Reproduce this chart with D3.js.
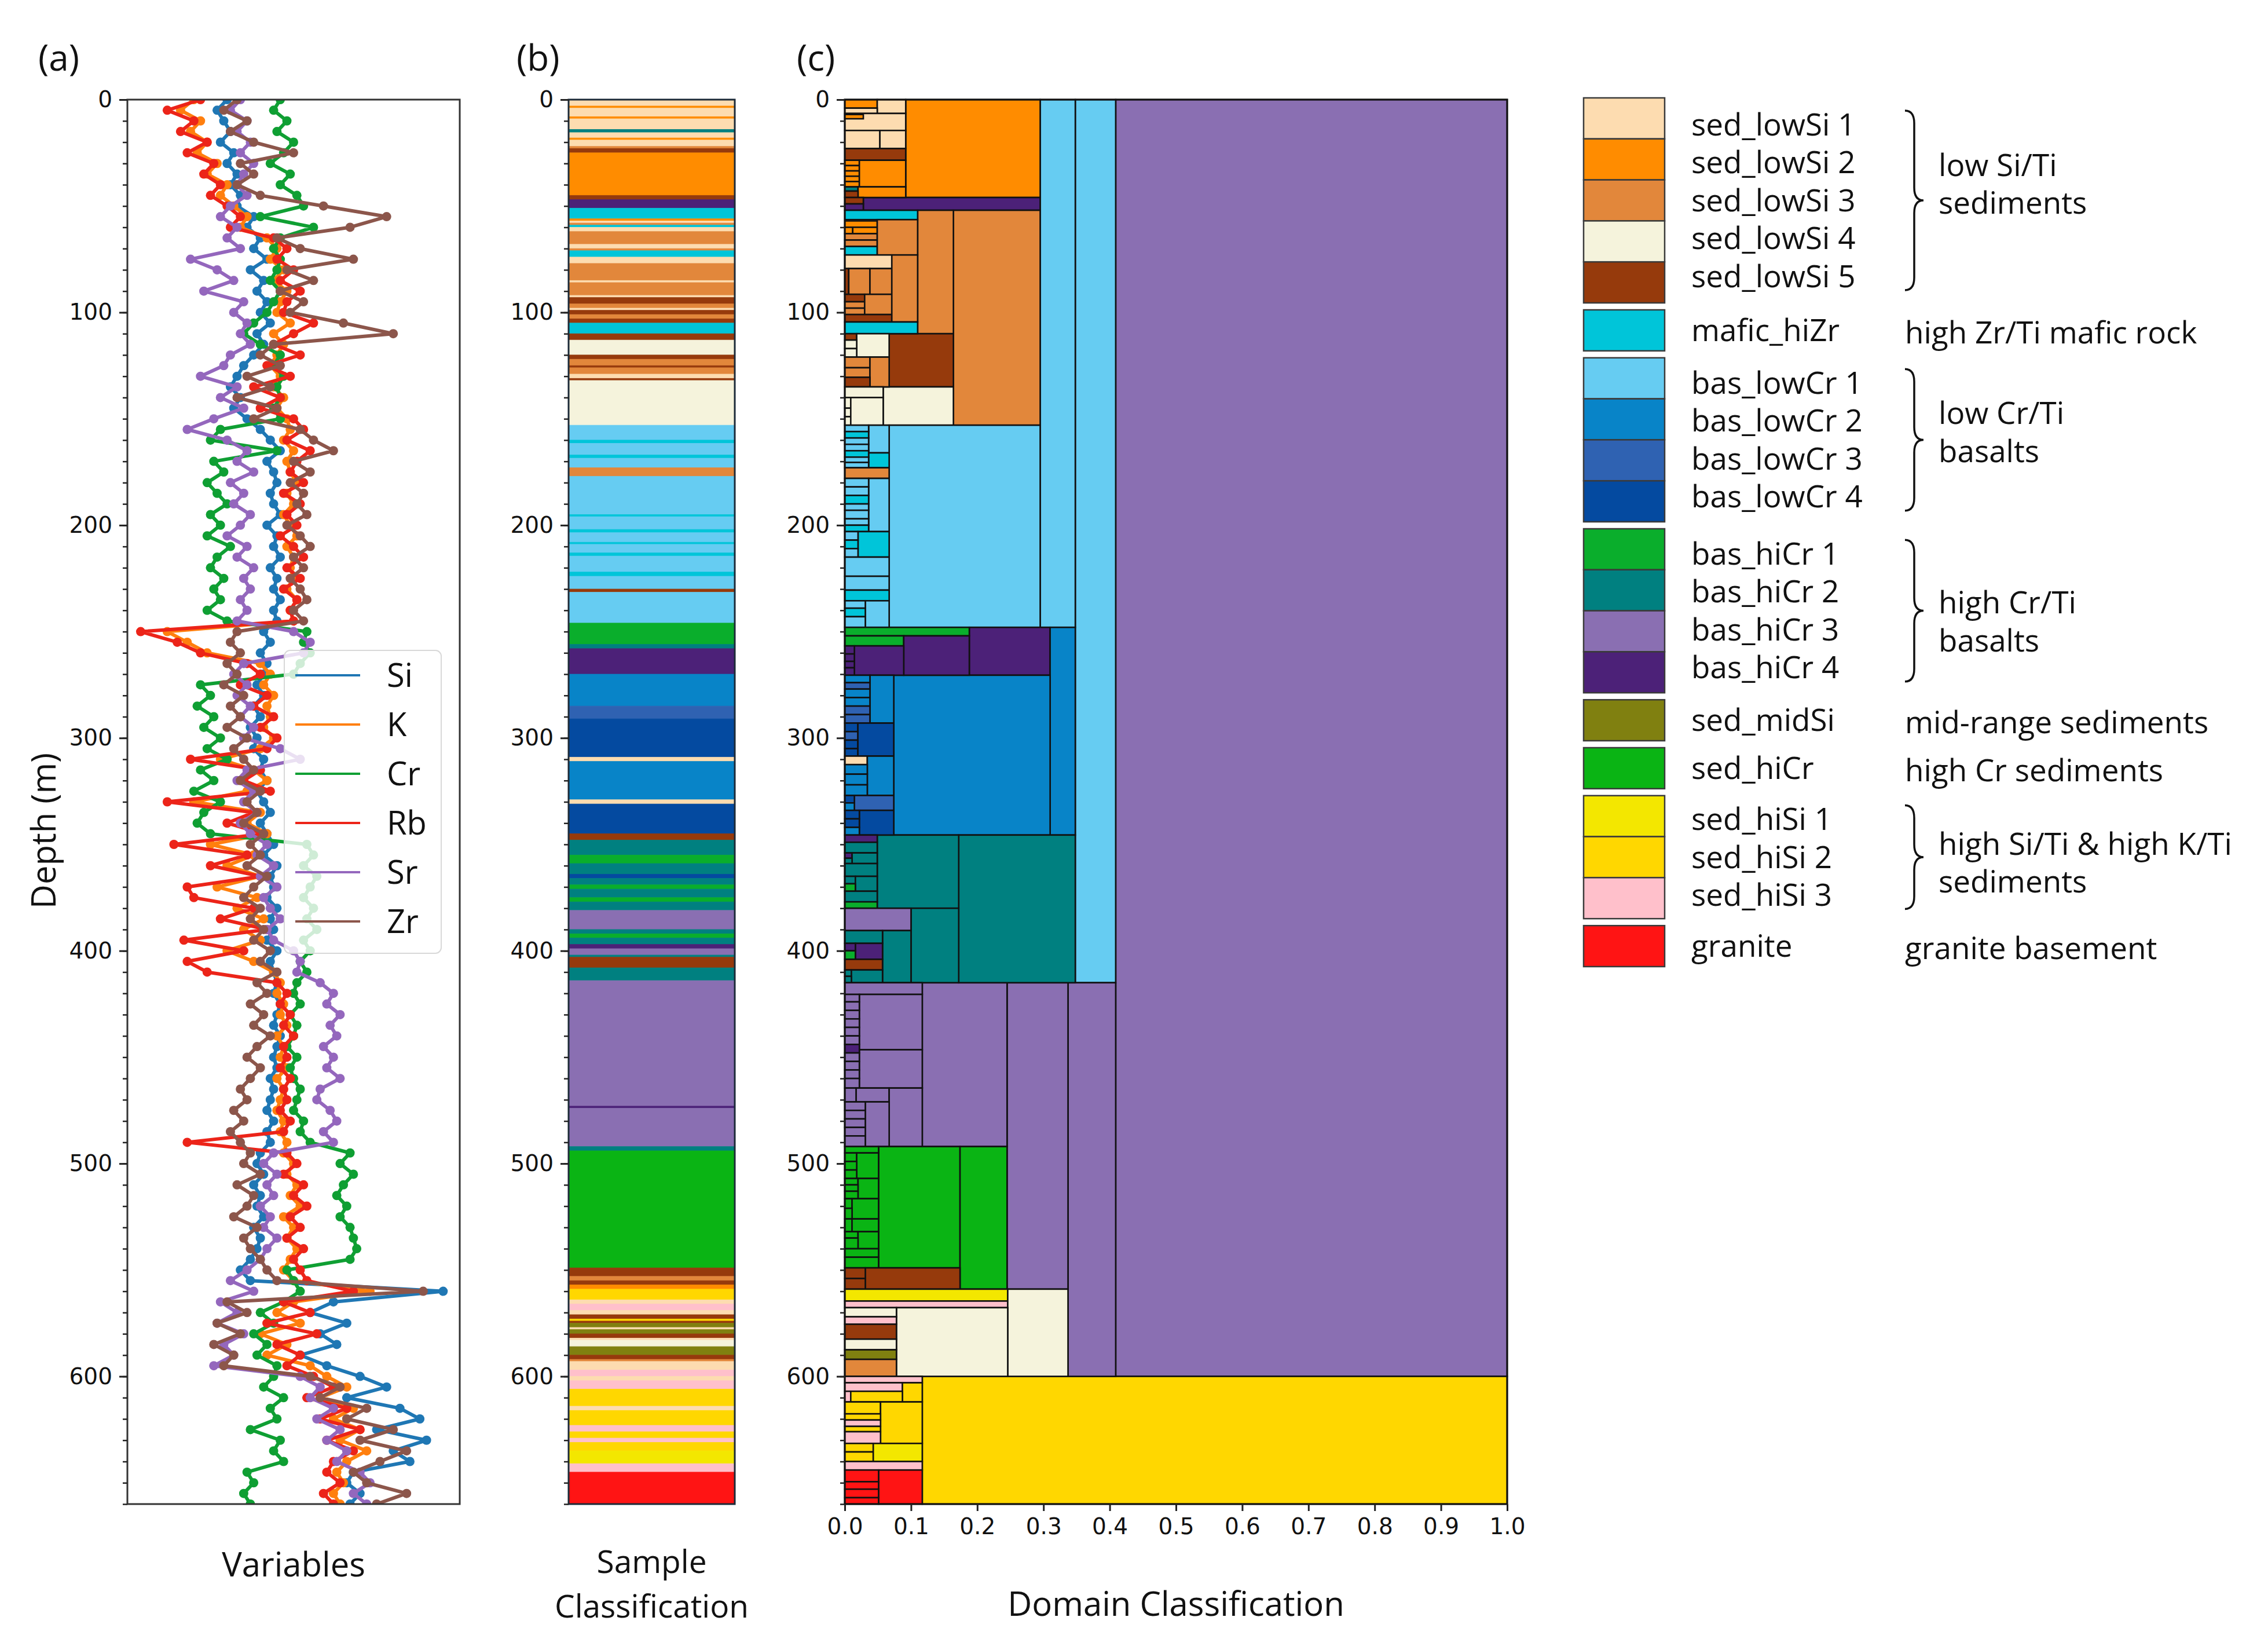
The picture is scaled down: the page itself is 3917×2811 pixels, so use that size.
<!DOCTYPE html>
<html>
<head>
<meta charset="utf-8">
<script src="https://cdn.jsdelivr.net/npm/d3@7/dist/d3.min.js"></script>
<style>
  body { margin: 0; background: #fff; }
  text { font-family: 'Open Sans', sans-serif; fill: #111; }
  .tick text { font-family: 'DejaVu Sans', sans-serif; font-size: 39px; fill: #111; }
</style>
</head>
<body>
<svg id="fig"></svg>
<script>
/* global d3 */

// ---- data -------------------------------------------------------------
var DEPTH_MAX = 660;
var DEPTH_STEP = 5; // one sample every 5 m, from 0 to 660 m

var seriesNames = ['Si', 'K', 'Cr', 'Rb', 'Sr', 'Zr'];

// values are read as % of the panel (a) width
var siValues = [
  30, 27, 29, 31, 28, 32, 30, 33, 31, 34,
  33, 38, 36, 40, 38, 42, 37, 41, 39, 42,
  40, 43, 39, 41, 38, 35, 33, 31, 34, 32,
  36, 40, 43, 46, 42, 44, 45, 43, 44, 46,
  42, 45, 44, 46, 43, 45, 44, 46, 44, 45,
  41, 43, 40, 42, 41, 39, 41, 38, 40, 37,
  39, 38, 41, 40, 42, 39, 41, 43, 40, 42,
  44, 41, 45, 43, 44, 42, 45, 43, 44, 42,
  45, 43, 44, 45, 44, 46, 45, 44, 46, 45,
  44, 45, 43, 44, 43, 42, 44, 42, 43, 40,
  39, 41, 38, 40, 39, 41, 38, 40, 39, 37,
  34, 37, 95, 62, 55, 66, 58, 63, 52, 60,
  70, 78, 66, 82, 88, 75, 90, 80, 85, 68,
  66, 70, 67
];
var kValues = [
  20, 16, 22, 19, 24, 21, 27, 24, 30, 28,
  32, 36, 34, 42, 45, 43, 47, 44, 48, 46,
  45, 49, 44, 47, 45, 43, 46, 44, 47, 45,
  48, 49, 47, 50, 48, 49, 51, 48, 50, 47,
  49, 51, 48, 50, 49, 50, 48, 51, 49, 50,
  12, 18, 24, 40, 43, 41, 44, 42, 43, 41,
  44, 40, 28, 38, 42, 36, 20, 40, 36, 42,
  25, 38, 30, 40, 27, 39, 33, 41, 35, 40,
  30, 38, 44, 46, 45, 47, 46, 48, 45, 47,
  46, 48, 45, 47, 46, 45, 47, 46, 48, 47,
  50, 48, 51, 49, 52, 47, 50, 48, 51, 49,
  47, 50, 73, 50, 45, 52, 40, 48, 42, 55,
  60, 66, 58, 68, 62, 70, 64, 72, 66, 63,
  65, 62, 64
];
var crValues = [
  46, 44, 48, 45, 50, 47, 43, 49, 46, 51,
  53, 40, 56, 46, 44, 46, 45, 43, 46, 44,
  42, 38, 35, 40, 46, 44, 47, 45, 46, 44,
  46, 28, 25, 45, 26, 29, 24, 27, 30, 25,
  28, 24, 31, 27, 25, 29, 26, 28, 24, 30,
  54, 53, 55, 52, 50, 22, 25, 21, 26, 23,
  28, 24, 30, 22, 26, 20, 28, 23, 21, 25,
  54, 56, 53, 57, 55, 53, 56, 54, 57, 53,
  55, 52, 54, 51, 50, 52, 49, 51, 50, 48,
  51, 49, 50, 52, 51, 50, 53, 52, 55, 67,
  64, 68, 65, 63, 66, 64, 67, 68, 69, 67,
  48, 50, 52, 47, 40, 44, 38, 42, 39, 45,
  44, 41, 47, 43, 45, 37, 46, 44, 47, 36,
  38, 35, 37
];
var rbValues = [
  22, 12, 20, 16, 24, 18, 26, 23, 28, 25,
  30, 34, 31, 44, 48, 45, 50, 46, 52, 48,
  47, 56, 50, 44, 52, 42, 49, 38, 46, 40,
  50, 53, 48, 55, 51, 49, 53, 47, 52, 48,
  51, 46, 50, 53, 48, 52, 47, 51, 49, 50,
  4, 15, 22, 36, 40, 34, 42, 38, 44, 40,
  45, 42, 19, 40, 35, 43, 12, 38, 30, 41,
  14, 36, 25, 40, 18, 20, 38, 28, 42, 17,
  35, 18, 24, 45, 48, 46, 49, 47, 50, 47,
  48, 46, 49, 47, 48, 46, 49, 47, 18, 48,
  51, 47, 53, 50, 54, 49, 52, 48, 53, 50,
  52, 54, 68, 47, 55, 42, 57, 45, 52, 48,
  56, 62, 54, 66, 58, 70, 60, 68, 62, 60,
  64, 59, 62
];
var srValues = [
  34, 31, 36, 33, 37, 34, 38, 35, 33, 36,
  31, 28, 33, 30, 34, 19, 27, 32, 23, 35,
  32, 36, 34, 37, 31, 29, 22, 33, 28, 35,
  26, 18, 30, 36, 33, 38, 31, 35, 32, 37,
  34, 30, 36, 33, 38, 35, 37, 34, 36, 33,
  50, 55, 53, 35, 32, 36, 33, 37, 34, 38,
  35, 46, 52, 36, 33, 38, 35, 39, 34, 37,
  42, 39, 44, 40, 45, 41, 43, 46, 42, 44,
  50, 52, 51, 58, 62, 60, 64, 61, 63, 59,
  62, 60, 64, 58, 57, 61, 63, 59, 62, 44,
  41, 45, 42, 44, 40, 43, 41, 45, 42, 40,
  36, 31, 38, 28, 33, 27, 35, 29, 32, 26,
  52, 58, 55, 62, 57, 64, 60, 66, 63, 70,
  73, 68, 72
];
var zrValues = [
  33, 29, 36, 31, 38, 50, 34, 38, 33, 40,
  59, 78, 67, 45, 52, 68, 48, 56, 46, 53,
  49, 65, 80, 44, 40, 46, 36, 43, 33, 45,
  38, 52, 56, 62, 50, 55, 49, 53, 51, 54,
  48, 52, 55, 50, 53, 49, 52, 54, 50, 53,
  33, 31, 34, 30, 33, 29, 35, 31, 34, 30,
  36, 32, 35, 38, 34, 40, 36, 39, 35, 41,
  37, 40, 36, 42, 38, 35, 40, 37, 41, 38,
  43, 40, 45, 39, 42, 37, 41, 38, 43, 39,
  36, 40, 37, 34, 36, 32, 35, 31, 34, 37,
  35, 40, 33, 38, 36, 32, 39, 35, 37, 40,
  42, 45, 89, 30, 36, 27, 34, 26, 32, 29,
  55, 64, 58, 72, 66, 80, 70, 84, 76, 68,
  72, 84, 75
];
var seriesValues = [siValues, kValues, crValues, rbValues, srValues, zrValues];

var depthTicks = [0, 100, 200, 300, 400, 500, 600];
var fractionTicks = [0, 0.1, 0.2, 0.3, 0.4, 0.5, 0.6, 0.7, 0.8, 0.9, 1.0];

var classKeys = ['s1', 's2', 's3', 's4', 's5', 'mz', 'l1', 'l2', 'l3', 'l4',
  'h1', 'h2', 'h3', 'h4', 'mid', 'shc', 'y1', 'y2', 'y3', 'gr'];
var classLabels = ['sed_lowSi 1', 'sed_lowSi 2', 'sed_lowSi 3', 'sed_lowSi 4', 'sed_lowSi 5',
  'mafic_hiZr', 'bas_lowCr 1', 'bas_lowCr 2', 'bas_lowCr 3', 'bas_lowCr 4',
  'bas_hiCr 1', 'bas_hiCr 2', 'bas_hiCr 3', 'bas_hiCr 4', 'sed_midSi', 'sed_hiCr',
  'sed_hiSi 1', 'sed_hiSi 2', 'sed_hiSi 3', 'granite'];

// legend groups: member classes and description
var legendGroups = [
  { keys: ['s1', 's2', 's3', 's4', 's5'], desc: ['low Si/Ti', 'sediments'] },
  { keys: ['mz'], desc: ['high Zr/Ti mafic rock'] },
  { keys: ['l1', 'l2', 'l3', 'l4'], desc: ['low Cr/Ti', 'basalts'] },
  { keys: ['h1', 'h2', 'h3', 'h4'], desc: ['high Cr/Ti', 'basalts'] },
  { keys: ['mid'], desc: ['mid-range sediments'] },
  { keys: ['shc'], desc: ['high Cr sediments'] },
  { keys: ['y1', 'y2', 'y3'], desc: ['high Si/Ti & high K/Ti', 'sediments'] },
  { keys: ['gr'], desc: ['granite  basement'] }
];

// (b) sample classification: [top depth, bottom depth, class]
var sampleBands = [
  [0, 3, 's1'], [3, 4, 's2'], [4, 8, 's1'], [8, 9, 's2'], [9, 14, 's1'], [14, 15.5, 'h2'],
  [15.5, 18, 's1'], [18, 19, 's2'], [19, 22, 's1'], [22, 23, 's3'], [23, 25, 's5'],
  [25, 45, 's2'], [45, 47, 's5'], [47, 51, 'h4'], [51, 56, 'mz'], [56, 57, 's2'],
  [57, 58, 's1'], [58, 59, 's3'], [59, 60, 'mz'], [60, 62, 's1'], [62, 68, 's3'],
  [68, 70, 's1'], [70, 71, 's3'], [71, 74, 'mz'], [74, 77, 's1'], [77, 85, 's3'],
  [85, 86, 's1'], [86, 92, 's3'], [92, 93, 's1'], [93, 96, 's5'], [96, 98, 's3'],
  [98, 99, 's1'], [99, 101, 's5'], [101, 103, 's3'], [103, 105, 's5'], [105, 110, 'mz'],
  [110, 113, 's5'], [113, 120, 's4'], [120, 122, 's5'], [122, 125, 's3'], [125, 126, 's5'],
  [126, 129, 's3'], [129, 131, 's1'], [131, 132, 's5'], [132, 153, 's4'], [153, 160, 'l1'],
  [160, 161.5, 'mz'], [161.5, 167, 'l1'], [167, 168.5, 'mz'], [168.5, 173, 'l1'],
  [173, 177, 's3'], [177, 195, 'l1'], [195, 196, 'mz'], [196, 202, 'l1'], [202, 203.5, 'mz'],
  [203.5, 208, 'l1'], [208, 209, 'mz'], [209, 213, 'l1'], [213, 214.5, 'mz'], [214.5, 222, 'l1'],
  [222, 224, 'mz'], [224, 230, 'l1'], [230, 231.5, 's5'], [231.5, 246, 'l1'], [246, 256, 'h1'],
  [256, 258, 'h2'], [258, 270, 'h4'], [270, 285, 'l2'], [285, 291, 'l3'], [291, 309, 'l4'],
  [309, 311, 's1'], [311, 329, 'l2'], [329, 331, 's1'], [331, 345, 'l4'], [345, 348, 's5'],
  [348, 355, 'h2'], [355, 359, 'h1'], [359, 364, 'h2'], [364, 366, 'l4'], [366, 369, 'h2'],
  [369, 371, 'h1'], [371, 375, 'h2'], [375, 377, 'h1'], [377, 381, 'h2'], [381, 390, 'h3'],
  [390, 392, 'h2'], [392, 394, 'h1'], [394, 397, 'h2'], [397, 399, 'h4'], [399, 402, 'h3'],
  [402, 403, 'h2'], [403, 408, 's5'], [408, 414, 'h2'], [414, 473, 'h3'], [473, 474, 'h4'],
  [474, 492, 'h3'], [492, 494, 'h2'], [494, 549, 'shc'], [549, 553, 's5'], [553, 555, 's3'],
  [555, 557, 's5'], [557, 559, 's2'], [559, 564, 'y2'], [564, 566, 's1'], [566, 569, 'y3'],
  [569, 571, 's1'], [571, 573, 's5'], [573, 574, 'y2'], [574, 575, 's5'], [575, 577, 'mid'],
  [577, 578, 's1'], [578, 580, 'mid'], [580, 582, 's5'], [582, 583, 's1'], [583, 586, 's4'],
  [586, 590, 'mid'], [590, 592, 's5'], [592, 593, 's3'], [593, 597, 's1'], [597, 600, 'y3'],
  [600, 602, 's1'], [602, 606, 'y3'], [606, 614, 'y2'], [614, 616, 's1'], [616, 623, 'y2'],
  [623, 626, 'y3'], [626, 629, 'y2'], [629, 631, 'y3'], [631, 635, 'y2'], [635, 641, 'y1'],
  [641, 645, 'y3'], [645, 660, 'gr']
];

// (c) domain classification: [fraction from, fraction to, top depth, bottom depth, class]
var domainBoxes = [
  [0.409, 1.0, 0, 600, 'h3'], [0.117, 1.0, 600, 660, 'y2'],
  [0.348, 0.409, 0, 415, 'l1'], [0.295, 0.348, 0, 248, 'l1'],
  [0.337, 0.409, 415, 600, 'h3'], [0.245, 0.337, 415, 559, 'h3'], [0.117, 0.245, 415, 492, 'h3'],
  [0.092, 0.295, 0, 46, 's2'], [0.028, 0.295, 46, 52, 'h4'],
  [0.164, 0.295, 52, 153, 's3'], [0.11, 0.164, 52, 110, 's3'],
  [0.067, 0.164, 110, 135, 's5'], [0.058, 0.164, 135, 153, 's4'],
  [0.067, 0.295, 153, 248, 'l1'],
  [0.188, 0.31, 248, 270.5, 'h4'], [0.31, 0.348, 248, 345.6, 'l2'], [0.074, 0.31, 270.5, 345.6, 'l2'],
  [0.172, 0.348, 345.6, 415, 'h2'], [0.049, 0.172, 345.6, 380, 'h2'], [0.1, 0.172, 380, 415, 'h2'],
  // 0 - 52 m, left
  [0, 0.049, 0, 4, 's2'], [0.049, 0.092, 0, 6.5, 's1'], [0, 0.049, 4, 6.5, 's1'],
  [0, 0.092, 6.5, 14.5, 's1'], [0, 0.028, 7, 9, 's2'],
  [0, 0.053, 14.5, 23, 's1'], [0.053, 0.092, 14.5, 23, 's1'], [0, 0.092, 23, 28.5, 's5'],
  [0, 0.022, 28.5, 31, 's2'], [0, 0.022, 31, 33.5, 's2'], [0, 0.022, 33.5, 36, 's2'],
  [0, 0.022, 36, 38.5, 's2'], [0, 0.022, 38.5, 41, 's2'], [0.022, 0.092, 28.5, 41, 's2'],
  [0, 0.02, 41, 43, 'h2'], [0.02, 0.092, 41, 46, 's2'], [0, 0.02, 43, 46, 's5'],
  [0, 0.028, 46, 49, 's5'], [0, 0.028, 49, 52, 'h4'],
  // 52 - 110 m, left
  [0, 0.11, 52, 56.4, 'mz'], [0, 0.049, 57, 60, 's2'], [0, 0.012, 60, 63, 's2'],
  [0.012, 0.049, 60, 63, 's2'], [0, 0.049, 63, 66, 's3'], [0, 0.049, 66, 69, 's3'],
  [0, 0.049, 69, 73, 'mz'], [0.049, 0.11, 56.4, 73, 's3'], [0, 0.071, 73, 79.4, 's1'],
  [0, 0.006, 79.4, 91.5, 's5'], [0.006, 0.038, 79.4, 91.5, 's3'], [0.038, 0.071, 79.4, 91.5, 's3'],
  [0, 0.03, 91.5, 95, 's5'], [0, 0.03, 95, 98, 's3'], [0, 0.03, 98, 101, 's3'],
  [0.03, 0.071, 91.5, 101, 's3'], [0, 0.071, 101, 104.5, 's5'], [0.071, 0.11, 73, 104.5, 's3'],
  [0, 0.11, 104.5, 110, 'mz'],
  // 110 - 153 m, left
  [0, 0.018, 110, 113, 's5'], [0.018, 0.067, 110, 121, 's4'], [0, 0.018, 113, 117, 's4'],
  [0, 0.018, 117, 121, 's4'], [0, 0.038, 121, 126, 's3'], [0, 0.038, 126, 130.5, 's3'],
  [0.038, 0.067, 121, 135, 's3'], [0, 0.038, 130.5, 135, 's5'],
  [0, 0.058, 135, 140, 's4'], [0, 0.009, 140, 145, 's4'], [0, 0.009, 145, 149, 's4'],
  [0, 0.009, 149, 153, 's4'], [0.009, 0.058, 140, 153, 's4'],
  // 153 - 248 m, left
  [0.036, 0.067, 153, 166, 'l1'], [0.036, 0.067, 166, 173, 'mz'],
  [0, 0.036, 153, 156, 'l1'], [0, 0.036, 156, 159, 'mz'], [0, 0.036, 159, 162, 'l1'],
  [0, 0.036, 162, 165, 'l1'], [0, 0.036, 165, 168, 'mz'], [0, 0.036, 168, 170.5, 'l1'],
  [0, 0.036, 170.5, 173, 'l1'], [0, 0.067, 173, 178, 's3'],
  [0.036, 0.067, 178, 203, 'l1'], [0, 0.036, 178, 182, 'l1'], [0, 0.036, 182, 186, 'l1'],
  [0, 0.036, 186, 190, 'mz'], [0, 0.036, 190, 193, 'l1'], [0, 0.036, 193, 197, 'l1'],
  [0, 0.036, 197, 200, 'l1'], [0, 0.036, 200, 203, 'mz'],
  [0.02, 0.067, 203, 215, 'mz'], [0, 0.02, 203, 207, 'l1'], [0, 0.02, 207, 211, 'mz'],
  [0, 0.02, 211, 215, 'l1'], [0, 0.067, 215, 224, 'l1'], [0, 0.067, 224, 230.5, 'l1'],
  [0, 0.067, 230.5, 235.5, 'mz'], [0.031, 0.067, 235.5, 248, 'l1'],
  [0, 0.031, 235.5, 239, 'l1'], [0, 0.031, 239, 243, 'mz'], [0, 0.031, 243, 248, 'l1'],
  // 248 - 345 m, left
  [0, 0.188, 248, 252, 'h1'], [0, 0.089, 252, 256.7, 'h1'], [0.089, 0.188, 252, 270.5, 'h4'],
  [0.0145, 0.089, 256.7, 270.5, 'h4'], [0, 0.0145, 256.7, 260.5, 'h4'], [0, 0.0145, 260.5, 264, 'h4'],
  [0, 0.0145, 264, 267, 'h4'], [0, 0.0145, 267, 270.5, 'h4'],
  [0.038, 0.074, 270.5, 293, 'l2'], [0, 0.038, 270.5, 274, 'l2'], [0, 0.038, 274, 277, 'l3'],
  [0, 0.038, 277, 281, 'l2'], [0, 0.038, 281, 285, 'l2'], [0, 0.038, 285, 289, 'l3'],
  [0, 0.038, 289, 293, 'l3'],
  [0.0196, 0.074, 293, 308.5, 'l4'], [0, 0.0196, 293, 297, 'l4'], [0, 0.0196, 297, 301, 'l3'],
  [0, 0.0196, 301, 305, 'l4'], [0, 0.0196, 305, 308.5, 'l4'],
  [0, 0.034, 308.5, 312.5, 's1'], [0.034, 0.074, 308.5, 327, 'l2'], [0, 0.034, 312.5, 317, 'l2'],
  [0, 0.034, 317, 322, 'l2'], [0, 0.034, 322, 327, 'l2'],
  [0.0145, 0.074, 327, 334, 'l3'], [0, 0.0145, 327, 330.5, 'l4'], [0, 0.0145, 330.5, 334, 'l2'],
  [0.022, 0.074, 334, 345.6, 'l4'], [0, 0.022, 334, 338, 'l4'], [0, 0.022, 338, 342, 'l4'],
  [0, 0.022, 342, 345.6, 'l2'],
  // 345 - 415 m, left
  [0, 0.049, 345.6, 349, 'h4'], [0, 0.049, 349, 354, 'h2'], [0, 0.011, 354, 356.5, 'h4'],
  [0.011, 0.049, 354, 359, 'h2'], [0, 0.011, 356.5, 359, 'h2'], [0, 0.049, 359, 365, 'h2'],
  [0, 0.016, 365, 368.5, 'h2'], [0.016, 0.049, 365, 372, 'h2'], [0, 0.016, 368.5, 372, 'h1'],
  [0, 0.049, 372, 377, 'h2'], [0, 0.049, 377, 380, 'h1'],
  [0, 0.1, 380, 390.5, 'h3'], [0.057, 0.1, 390.5, 415, 'h2'], [0, 0.057, 390.5, 396.5, 'h2'],
  [0.016, 0.057, 396.5, 404, 'h4'], [0, 0.016, 396.5, 400, 'h4'], [0, 0.016, 400, 404, 'h1'],
  [0, 0.057, 404, 409, 's5'], [0, 0.01, 409, 412, 'h2'], [0.01, 0.057, 409, 415, 'h2'],
  [0, 0.01, 412, 415, 'h2'],
  // 415 - 492 m, left
  [0, 0.117, 415, 420.5, 'h3'], [0.022, 0.117, 420.5, 446.5, 'h3'], [0.022, 0.117, 446.5, 464.5, 'h3'],
  [0, 0.022, 420.5, 424, 'h3'], [0, 0.022, 424, 428, 'h3'], [0, 0.022, 428, 432, 'h3'],
  [0, 0.022, 432, 436, 'h3'], [0, 0.022, 436, 440, 'h3'], [0, 0.022, 440, 444, 'h3'],
  [0, 0.022, 444, 448, 'h4'], [0, 0.022, 448, 452, 'h3'], [0, 0.022, 452, 456, 'h3'],
  [0, 0.022, 456, 460, 'h3'], [0, 0.022, 460, 464.5, 'h3'],
  [0.017, 0.067, 464.5, 471, 'h3'], [0, 0.017, 464.5, 471, 'h3'], [0.067, 0.117, 464.5, 492, 'h3'],
  [0.031, 0.067, 471, 492, 'h3'], [0, 0.031, 471, 475, 'h3'], [0, 0.031, 475, 479, 'h3'],
  [0, 0.031, 479, 483, 'h3'], [0, 0.031, 483, 487, 'h3'], [0, 0.031, 487, 492, 'h3'],
  // 492 - 559 m
  [0.051, 0.174, 492, 549, 'shc'], [0.174, 0.245, 492, 559, 'shc'],
  [0, 0.051, 492, 495, 'shc'], [0, 0.018, 495, 499, 'shc'], [0.018, 0.051, 495, 507, 'shc'],
  [0, 0.018, 499, 503, 'shc'], [0, 0.018, 503, 507, 'shc'], [0, 0.02, 507, 510, 'shc'],
  [0.02, 0.051, 507, 516.5, 'shc'], [0, 0.02, 510, 513, 'shc'], [0, 0.02, 513, 516.5, 'shc'],
  [0, 0.011, 516.5, 521, 'shc'], [0.011, 0.051, 516.5, 526, 'shc'], [0, 0.011, 521, 526, 'shc'],
  [0, 0.011, 526, 532, 'shc'], [0.011, 0.051, 526, 532, 'shc'], [0, 0.02, 532, 535, 'shc'],
  [0.02, 0.051, 532, 540, 'shc'], [0, 0.02, 535, 540, 'shc'], [0, 0.051, 540, 544, 'shc'],
  [0, 0.051, 544, 549, 'shc'],
  [0.031, 0.174, 549, 559, 's5'], [0, 0.031, 549, 554, 's5'], [0, 0.031, 554, 559, 's5'],
  // 559 - 600 m
  [0, 0.246, 559, 564.6, 'y1'], [0, 0.246, 564.6, 567.7, 'y3'], [0.246, 0.337, 559, 600, 's4'],
  [0.078, 0.246, 567.7, 600, 's4'], [0, 0.078, 567.7, 572, 's4'], [0, 0.078, 572, 575.5, 'y3'],
  [0, 0.078, 575.5, 582.5, 's5'], [0, 0.078, 582.5, 587.5, 's4'], [0, 0.078, 587.5, 592, 'mid'],
  [0, 0.078, 592, 600, 's3'],
  // 600 - 660 m
  [0, 0.117, 600, 603, 'y3'], [0, 0.087, 603, 607, 'y3'], [0.087, 0.117, 603, 612, 'y2'],
  [0, 0.009, 607, 612, 'y3'], [0.009, 0.087, 607, 612, 'y2'],
  [0, 0.054, 612, 617.6, 'y2'], [0.054, 0.117, 612, 631.5, 'y2'], [0, 0.054, 617.6, 620.5, 'y2'],
  [0, 0.054, 620.5, 623.5, 'y3'], [0, 0.054, 623.5, 626, 'y2'], [0, 0.054, 626, 631.5, 'y3'],
  [0, 0.043, 631.5, 635.5, 'y2'], [0, 0.043, 635.5, 640, 'y2'], [0.043, 0.117, 631.5, 640, 'y1'],
  [0, 0.117, 640, 644, 'y3'],
  [0.051, 0.117, 644, 660, 'gr'], [0, 0.051, 644, 649.5, 'gr'], [0, 0.051, 649.5, 653, 'gr'],
  [0, 0.051, 653, 657, 'gr'], [0, 0.051, 657, 660, 'gr']
];

// ---- styles ----------------------------------------------------------
var seriesColors = ['#1f77b4', '#ff7f0e', '#0f9f33', '#ec2419', '#9467bd', '#8c564b'];
var classColors = {
  s1: '#fddcb0', s2: '#ff8c00', s3: '#e2873b', s4: '#f5f3dc', s5: '#963a0c',
  mz: '#00c5d9', l1: '#66ccf2', l2: '#0884c8', l3: '#2f62b2', l4: '#044aa0',
  h1: '#0aae2c', h2: '#008080', h3: '#8a6fb2', h4: '#4c2178', mid: '#808010',
  shc: '#0ab414', y1: '#f3e700', y2: '#ffd700', y3: '#ffc0cb', gr: '#ff1414'
};

// ---- layout ----------------------------------------------------------
var W = 3917, H = 2811;
var TOP = 172, BOTTOM = 2597;
var A_LEFT = 220, A_RIGHT = 794;
var B_LEFT = 982, B_RIGHT = 1269;
var C_LEFT = 1459, C_RIGHT = 2603;

var svg = d3.select('#fig')
  .attr('width', W)
  .attr('height', H)
  .style('background', 'white');

var y = d3.scaleLinear().domain([0, DEPTH_MAX]).range([TOP, BOTTOM]);
var xA = d3.scaleLinear().domain([0, 100]).range([A_LEFT, A_RIGHT]);
var xC = d3.scaleLinear().domain([0, 1]).range([C_LEFT, C_RIGHT]);

function depthAxis(left) {
  'use strict';

  var minor = svg.append('g')
    .attr('transform', 'translate(' + left + ',0)')
    .call(d3.axisLeft(y).tickValues(d3.range(0, DEPTH_MAX + 1, 10)).tickSize(8).tickFormat(''));
  minor.select('.domain').remove();
  minor.selectAll('line').attr('stroke', '#222').attr('stroke-width', 2.5);

  var major = svg.append('g')
    .attr('transform', 'translate(' + left + ',0)')
    .call(d3.axisLeft(y).tickValues(depthTicks).tickSize(14).tickPadding(12).tickFormat(d3.format('d')));
  major.select('.domain').remove();
  major.selectAll('line').attr('stroke', '#222').attr('stroke-width', 3);
}

function frame(x0, x1, color) {
  'use strict';
  svg.append('rect')
    .attr('x', x0).attr('y', TOP)
    .attr('width', x1 - x0).attr('height', BOTTOM - TOP)
    .attr('fill', 'none')
    .attr('stroke', color)
    .attr('stroke-width', 3);
}

// ---- (a) variables ----------------------------------------------------
svg.append('clipPath').attr('id', 'clipA')
  .append('rect')
  .attr('x', A_LEFT).attr('y', TOP)
  .attr('width', A_RIGHT - A_LEFT).attr('height', BOTTOM - TOP);

var plotA = svg.append('g').attr('clip-path', 'url(#clipA)');

var line = d3.line()
  .x(function (d) { return xA(d.v); })
  .y(function (d) { return y(d.d); });

seriesValues.forEach(function (vals, i) {
  var pts = vals.map(function (v, j) { return { d: j * DEPTH_STEP, v: v }; });
  plotA.append('path')
    .datum(pts)
    .attr('d', line)
    .attr('fill', 'none')
    .attr('stroke', seriesColors[i])
    .attr('stroke-width', 6)
    .attr('stroke-linejoin', 'round');
  plotA.selectAll('circle.s' + i)
    .data(pts)
    .enter()
    .append('circle')
    .attr('class', 's' + i)
    .attr('cx', function (d) { return xA(d.v); })
    .attr('cy', function (d) { return y(d.d); })
    .attr('r', 8)
    .attr('fill', seriesColors[i]);
});

// legend of (a)
var legA = svg.append('g');
legA.append('rect')
  .attr('x', 491).attr('y', 1123)
  .attr('width', 271).attr('height', 523)
  .attr('rx', 10)
  .attr('fill', 'white')
  .attr('fill-opacity', 0.8)
  .attr('stroke', '#d8d8d8')
  .attr('stroke-width', 2);
seriesNames.forEach(function (name, i) {
  var cy = 1166 + i * 85;
  legA.append('line')
    .attr('x1', 510).attr('x2', 622)
    .attr('y1', cy).attr('y2', cy)
    .attr('stroke', seriesColors[i])
    .attr('stroke-width', 4);
  legA.append('text')
    .attr('x', 668).attr('y', cy)
    .attr('dy', '0.36em')
    .attr('font-size', 56)
    .text(name);
});

frame(A_LEFT, A_RIGHT, '#333');
depthAxis(A_LEFT);

// ---- (b) sample classification ----------------------------------------
svg.append('g')
  .selectAll('rect')
  .data(sampleBands)
  .enter()
  .append('rect')
  .attr('x', B_LEFT)
  .attr('width', B_RIGHT - B_LEFT)
  .attr('y', function (d) { return y(d[0]); })
  .attr('height', function (d) { return y(d[1]) - y(d[0]); })
  .attr('fill', function (d) { return classColors[d[2]]; })
  .attr('stroke', function (d) { return classColors[d[2]]; })
  .attr('stroke-width', 0.8);

frame(B_LEFT, B_RIGHT, '#1c2a38');
depthAxis(B_LEFT);

// ---- (c) domain classification ----------------------------------------
svg.append('g')
  .selectAll('rect')
  .data(domainBoxes)
  .enter()
  .append('rect')
  .attr('x', function (d) { return xC(d[0]); })
  .attr('width', function (d) { return xC(d[1]) - xC(d[0]); })
  .attr('y', function (d) { return y(d[2]); })
  .attr('height', function (d) { return y(d[3]) - y(d[2]); })
  .attr('fill', function (d) { return classColors[d[4]]; })
  .attr('stroke', '#111')
  .attr('stroke-width', 2.6);

frame(C_LEFT, C_RIGHT, '#111');
depthAxis(C_LEFT);

var xAxisC = svg.append('g')
  .attr('transform', 'translate(0,' + BOTTOM + ')')
  .call(d3.axisBottom(xC).tickValues(fractionTicks).tickSize(12).tickPadding(12).tickFormat(d3.format('.1f')));
xAxisC.select('.domain').remove();
xAxisC.selectAll('line').attr('stroke', '#222').attr('stroke-width', 3);

// ---- titles -----------------------------------------------------------
var labels = [
  { text: '(a)', x: 66, y: 122, size: 62, anchor: 'start' },
  { text: '(b)', x: 892, y: 122, size: 62, anchor: 'start' },
  { text: '(c)', x: 1376, y: 122, size: 62, anchor: 'start' },
  { text: 'Variables', x: (A_LEFT + A_RIGHT) / 2, y: 2722, size: 58, anchor: 'middle' },
  { text: 'Sample', x: (B_LEFT + B_RIGHT) / 2, y: 2716, size: 55, anchor: 'middle' },
  { text: 'Classification', x: (B_LEFT + B_RIGHT) / 2, y: 2793, size: 55, anchor: 'middle' },
  { text: 'Domain Classification', x: (C_LEFT + C_RIGHT) / 2, y: 2790, size: 58, anchor: 'middle' }
];
labels.forEach(function (l) {
  svg.append('text')
    .attr('x', l.x).attr('y', l.y)
    .attr('font-size', l.size)
    .attr('text-anchor', l.anchor)
    .text(l.text);
});

svg.append('text')
  .attr('transform', 'translate(96,' + ((TOP + BOTTOM) / 2 + 50) + ') rotate(-90)')
  .attr('font-size', 58)
  .attr('text-anchor', 'middle')
  .text('Depth (m)');

// ---- class legend -----------------------------------------------------
var LEG_TOP = 169, ROW_H = 70.8, GROUP_GAP = 12, TEXT_STEP = 65.5;
var SW_X = 2735, SW_W = 140, TXT_X = 2921;
var descShift = [-28, 0, -13, 19, 0, 0, 10, 0];

function bracePath(x, y0, y1, w) {
  'use strict';
  var ym = (y0 + y1) / 2, xm = x + w * 0.5, q = 22;
  return 'M' + x + ',' + y0 +
    ' Q' + xm + ',' + y0 + ' ' + xm + ',' + (y0 + q) +
    ' L' + xm + ',' + (ym - q) +
    ' Q' + xm + ',' + ym + ' ' + (x + w) + ',' + ym +
    ' Q' + xm + ',' + ym + ' ' + xm + ',' + (ym + q) +
    ' L' + xm + ',' + (y1 - q) +
    ' Q' + xm + ',' + y1 + ' ' + x + ',' + y1;
}

var leg = svg.append('g');
var gy = LEG_TOP;
legendGroups.forEach(function (g, gi) {
  var n = g.keys.length;
  var top = gy, bottom = gy + n * ROW_H;
  var mid = (top + bottom) / 2;

  g.keys.forEach(function (k, i) {
    leg.append('rect')
      .attr('x', SW_X).attr('y', top + i * ROW_H)
      .attr('width', SW_W).attr('height', ROW_H)
      .attr('fill', classColors[k])
      .attr('stroke', '#3a3a3a')
      .attr('stroke-width', 2.5);
    leg.append('text')
      .attr('x', TXT_X)
      .attr('y', mid + (i - (n - 1) / 2) * TEXT_STEP)
      .attr('dy', '0.35em')
      .attr('font-size', 53)
      .text(classLabels[classKeys.indexOf(k)]);
  });

  if (n > 1) {
    var first = mid - (n - 1) / 2 * TEXT_STEP, last = mid + (n - 1) / 2 * TEXT_STEP;
    leg.append('path')
      .attr('d', bracePath(3290, first - 24, last + 24, 32))
      .attr('fill', 'none')
      .attr('stroke', '#111')
      .attr('stroke-width', 3.5);
    g.desc.forEach(function (t, i) {
      leg.append('text')
        .attr('x', 3348)
        .attr('y', mid + descShift[gi] + (i - (g.desc.length - 1) / 2) * TEXT_STEP)
        .attr('dy', '0.35em')
        .attr('font-size', 53)
        .text(t);
    });
  } else {
    leg.append('text')
      .attr('x', 3290)
      .attr('y', mid + 4)
      .attr('dy', '0.35em')
      .attr('font-size', 53)
      .text(g.desc[0]);
  }
  gy = bottom + GROUP_GAP;
});
</script>
</body>
</html>
